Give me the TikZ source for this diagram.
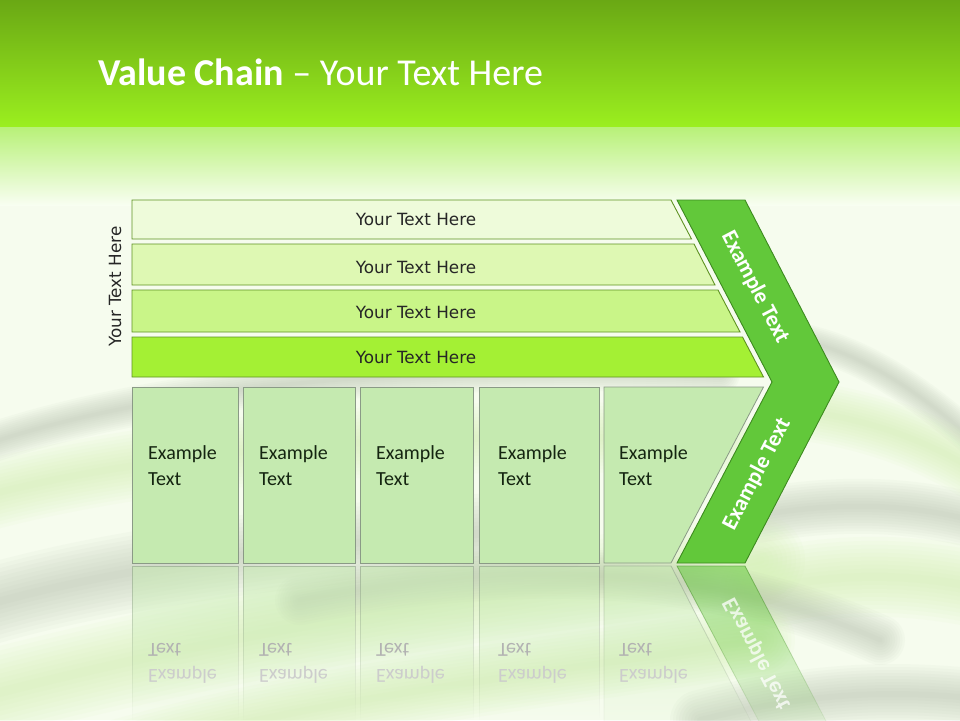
\documentclass[tikz,border=0pt]{standalone}
\usepackage{fontspec}
\setmainfont{Carlito}
\newfontfamily\tfont{DejaVu Sans}
\usetikzlibrary{fadings}
\definecolor{topA}{HTML}{6AA814}
\definecolor{topB}{HTML}{9BEF1F}
\definecolor{fadeA}{HTML}{B8F178}
\definecolor{fadeB}{HTML}{F8FEF1}
\definecolor{bgbase}{HTML}{F6FCEE}
\definecolor{swgray}{HTML}{AEBAA6}
\definecolor{swgreen}{HTML}{CDF2A4}
\definecolor{barA}{HTML}{EEFBDA}
\definecolor{barB}{HTML}{DEF8B3}
\definecolor{barC}{HTML}{C9F588}
\definecolor{barD}{HTML}{A4F034}
\definecolor{barline}{HTML}{5F9322}
\definecolor{chevfill}{HTML}{62C83A}
\definecolor{chevline}{HTML}{3D8A1F}
\definecolor{boxfill}{HTML}{C5EAB0}
\definecolor{boxline}{HTML}{8A9A86}
\definecolor{bartxt}{HTML}{262626}
\definecolor{boxtxt}{HTML}{142410}
\tikzfading[name=reflfade, top color=transparent!45, bottom color=transparent!100]
\newcommand\swoosh[3]{\foreach \ff in {1,0.9,0.8,0.7,0.6,0.5,0.4,0.3,0.2,0.1}{\draw[#1, line width=\ff*#2pt, opacity=0.06, line cap=round] #3;}}
\begin{document}
\begin{tikzpicture}[x=1pt,y=-1pt,
  barst/.style={draw=barline, line width=0.9pt},
  boxst/.style={draw=boxline, fill=boxfill, line width=0.8pt},
  reflst/.style={draw=boxline, fill=boxfill, line width=0.8pt, path fading=reflfade},
  bartext/.style={font=\tfont\fontsize{16.8}{20}\selectfont, text=bartxt, anchor=base, inner sep=0pt},
  boxtext/.style={font=\fontsize{20}{24}\selectfont, text=boxtxt, anchor=base west, inner sep=0pt},
  refltext/.style={font=\fontsize{20}{24}\selectfont, anchor=base west, inner sep=0pt},
  chevtext/.style={font=\bfseries\fontsize{22.5}{26}\selectfont, text=white, inner sep=0pt},
]
\useasboundingbox (0,0) rectangle (960,720);
\clip (0,0) rectangle (960,720);
% background
\fill[bgbase] (0,0) rectangle (960,720);
\shade[top color=topA, bottom color=topB] (0,0) rectangle (960,127);
\shade[top color=fadeA, bottom color=fadeB] (0,127) rectangle (960,205);
% swooshes
\swoosh{swgray}{40}{(-30,450) .. controls (150,385) and (420,362) .. (720,374)}
\swoosh{swgreen}{70}{(-30,500) .. controls (150,450) and (400,430) .. (720,440)}
\swoosh{swgray}{34}{(800,340) .. controls (870,355) and (930,400) .. (990,455)}
\swoosh{swgreen}{60}{(800,410) .. controls (870,420) and (930,440) .. (990,480)}
\swoosh{swgray}{55}{(760,515) .. controls (850,500) and (920,505) .. (990,525)}
\swoosh{swgreen}{80}{(760,590) .. controls (850,570) and (920,575) .. (990,590)}
\swoosh{swgray}{80}{(-30,610) .. controls (100,570) and (300,540) .. (560,530)}
\swoosh{swgreen}{90}{(-30,700) .. controls (200,640) and (420,600) .. (760,560)}
\swoosh{swgray}{50}{(300,600) .. controls (500,560) and (700,560) .. (880,640)}
\swoosh{swgray}{60}{(700,720) .. controls (820,690) and (900,690) .. (990,700)}
\swoosh{swgreen}{70}{(100,760) .. controls (300,700) and (500,680) .. (760,640)}
% reflections
\foreach \xa/\xb in {132/238,243/355,360/473,479/599} {
  \path[reflst] (\xa,566) rectangle (\xb,720);
}
\path[reflst] (604,566) -- (671,566) -- (763,745) -- (604,745) -- cycle;
\path[draw=chevline, fill=chevfill, line width=0.8pt, path fading=reflfade] (677,566) -- (745,566) -- (839,746) -- (772,746) -- cycle;
\foreach \i/\x in {1/148,2/259,3/376,4/498,5/619} {
  \node[refltext, text=black!30] (rta\i) at (\x,643) {\scalebox{1}[-1]{Text}};
  \node[refltext, text=black!20] (rtb\i) at (\x,669) {\scalebox{1}[-1]{Example}};
}
\node[chevtext, text=white, opacity=0.75, rotate=-62.5] (rct) at (757,654) {\scalebox{1}[-1]{Example Text}};
% bars
\path[barst, fill=barA] (132,200) -- (671,200) -- (691.5,239) -- (132,239) -- cycle;
\path[barst, fill=barB] (132,244) -- (694,244) -- (715,285) -- (132,285) -- cycle;
\path[barst, fill=barC] (132,290) -- (718,290) -- (740,332) -- (132,332) -- cycle;
\path[barst, fill=barD] (132,337) -- (742.5,337) -- (763.5,377) -- (132,377) -- cycle;
% chevron
\path[draw=chevline, fill=chevfill, line width=0.9pt] (677,200) -- (745,200) -- (839,382) -- (745,563) -- (677,563) -- (772,382) -- cycle;
% boxes
\path[boxst] (132,387) rectangle (238,563);
\path[boxst] (243,387) rectangle (355,563);
\path[boxst] (360,387) rectangle (473,563);
\path[boxst] (479,387) rectangle (599,563);
\path[boxst] (604,387) -- (763.5,387) -- (671,563) -- (604,563) -- cycle;
% texts
\node[anchor=base west, inner sep=0pt, text=white, font=\fontsize{38}{45}\selectfont] (title) at (98,85) {\textbf{Value Chain} – Your Text Here};
\node[bartext] (b1) at (416,225) {Your Text Here};
\node[bartext] (b2) at (416,273) {Your Text Here};
\node[bartext] (b3) at (416,318) {Your Text Here};
\node[bartext] (b4) at (416,363) {Your Text Here};
\node[bartext, rotate=90] (side) at (121,286.5) {Your Text Here};
\foreach \i/\x in {1/148,2/259,3/376,4/498,5/619} {
  \node[boxtext] (bta\i) at (\x,459) {Example};
  \node[boxtext] (btb\i) at (\x,485) {Text};
}
\node[chevtext, rotate=-62.5] (ct1) at (755,287) {Example Text};
\node[chevtext, rotate=62.5] (ct2) at (757,474) {Example Text};
\end{tikzpicture}
\end{document}
